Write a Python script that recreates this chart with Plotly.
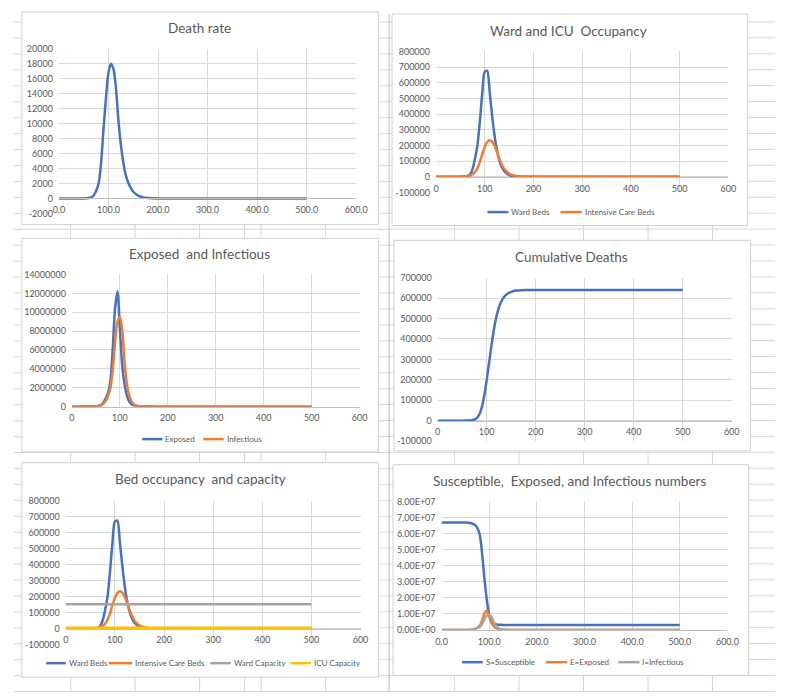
import plotly.graph_objects as go

W, H = 787, 697          # target window
OFF = 8                  # page body margin offset of the plot div
FW, FH = W - OFF, H - OFF
FONT = "Lato"
TXT = "#595959"
GRID = "#d9d9d9"
BLUE, ORANGE, GRAY, YELLOW = "#4472C4", "#ED7D31", "#A5A5A5", "#FFC000"

# ---------------- data ----------------
days = [0, 10, 20, 30, 40, 50, 55, 60, 65, 70, 75, 80, 85, 90, 95, 100, 105, 110,
        115, 120, 125, 130, 135, 140, 145, 150, 160, 170, 180, 200, 250, 300, 350,
        400, 450, 500]

death_rate = [0, 0, 0, 0, 2, 10, 25, 60, 150, 400, 1000, 2000, 4700, 9300, 13500,
              16800, 18000, 17300, 14800, 10500, 7200, 4800, 3100, 2100, 1400, 900,
              380, 150, 60, 10, 0, 0, 0, 0, 0, 0]

cumulative_deaths = [0, 0, 0, 0, 10, 60, 150, 350, 850, 2200, 5700, 13500, 30000,
                     65000, 122000, 198000, 285000, 372000, 450000, 511000, 555000,
                     585000, 604000, 617000, 625500, 631000, 637000, 639000, 639800,
                     640000, 640000, 640000, 640000, 640000, 640000, 640000]

ward_beds = [0, 0, 0, 0, 50, 300, 700, 1500, 5000, 15000, 50000, 115000, 200000,
             355000, 535000, 670000, 676000, 545000, 395000, 265000, 170000, 105000,
             62000, 36000, 20000, 11000, 3000, 800, 200, 0, 0, 0, 0, 0, 0, 0]

icu_beds = [0, 0, 0, 0, 100, 500, 1000, 2000, 4000, 8000, 16000, 30000, 55000, 95000,
            145000, 192000, 222000, 233000, 225000, 198000, 158000, 115000, 78000,
            50000, 32000, 20000, 7500, 2500, 800, 100, 0, 0, 0, 0, 0, 0]

ward_capacity = [152000] * len(days)
icu_capacity = [4100] * len(days)

exposed = [0, 50, 300, 1500, 7000, 30000, 70000, 160000, 380000, 820000, 1400000,
           2600000, 6000000, 10400000, 12200000, 8300000, 4300000, 2300000, 1100000,
           500000, 220000, 100000, 45000, 20000, 9000, 4000, 800, 150, 30, 0, 0, 0,
           0, 0, 0, 0]

infectious = [0, 30, 200, 1000, 5000, 20000, 50000, 120000, 280000, 580000, 1100000,
              1900000, 3800000, 6800000, 9000000, 9500000, 8100000, 4600000, 2300000,
              1100000, 500000, 230000, 100000, 45000, 20000, 9000, 1800, 350, 70, 0,
              0, 0, 0, 0, 0, 0]

susceptible = [66900000, 66899000, 66897000, 66890000, 66870000, 66800000, 66700000,
               66500000, 66100000, 65300000, 63600000, 59500000, 47500000, 32000000,
               18500000, 9500000, 5300000, 4000000, 3500000, 3300000, 3200000,
               3150000, 3120000, 3100000, 3090000, 3080000, 3070000, 3060000, 3060000,
               3050000, 3050000, 3050000, 3050000, 3050000, 3050000, 3050000]

x_ticks = [0, 100, 200, 300, 400, 500, 600]
y_ticks_death = list(range(-2000, 20001, 2000))
y_ticks_ward = list(range(-100000, 800001, 100000))
y_ticks_ei = list(range(0, 14000001, 2000000))
y_ticks_cum = list(range(-100000, 700001, 100000))
y_ticks_sei = [0, 1e7, 2e7, 3e7, 4e7, 5e7, 6e7, 7e7, 8e7]
y_labels_sei = ["0.00E+00", "1.00E+07", "2.00E+07", "3.00E+07", "4.00E+07",
                "5.00E+07", "6.00E+07", "7.00E+07", "8.00E+07"]

titles = ["Death rate", "Ward and ICU\u00a0 Occupancy", "Exposed\u00a0 and Infectious",
          "Cumulative Deaths", "Bed occupancy\u00a0 and capacity",
          "Susceptible,\u00a0 Exposed, and Infectious numbers"]

# ---------------- layout geometry (window pixels) ----------------
panels = [
    dict(box=(16, 6, 381, 222), plot=(54, 43.3, 358.3, 210.7), title=(198, 22.5),
         yt=y_ticks_death, yl=None, xfmt="{:.1f}", legend=None),
    dict(box=(395, 8, 759, 223), plot=(440, 46, 739.3, 189.3), title=(576, 25),
         yt=y_ticks_ward, yl=None, xfmt="{:d}",
         legend=(209.3, [(492.7, 514, 515), (567.3, 589.3, 590.3)])),
    dict(box=(16, 236, 381, 453), plot=(67.3, 272.7, 361.7, 407), title=(198, 251.5),
         yt=y_ticks_ei, yl=None, xfmt="{:d}",
         legend=(440, [(139.3, 160, 161), (201.7, 222.7, 223.7)])),
    dict(box=(397, 238, 762, 452), plot=(441.7, 276, 742.7, 442), title=(579, 255),
         yt=y_ticks_cum, yl=None, xfmt="{:d}", legend=None),
    dict(box=(16, 464, 381, 682), plot=(61, 502.7, 362.7, 648.7), title=(199, 480.5),
         yt=y_ticks_ward, yl=None, xfmt="{:d}",
         legend=(667.7, [(41, 61, 62.7), (105, 129, 130), (209, 230, 231),
                         (291, 312, 313)])),
    dict(box=(396, 466, 760, 680), plot=(445.7, 503.3, 738.3, 634), title=(577, 482.5),
         yt=y_ticks_sei, yl=y_labels_sei, xfmt="{:.1f}",
         legend=(666.7, [(466.7, 487.7, 488.7), (552.7, 574.3, 575.3),
                         (626.7, 648.3, 649)])),
]

series = [
    [("Death rate", death_rate, BLUE)],
    [("Ward Beds", ward_beds, BLUE), ("Intensive Care Beds", icu_beds, ORANGE)],
    [("Exposed", exposed, BLUE), ("Infectious", infectious, ORANGE)],
    [("Cumulative Deaths", cumulative_deaths, BLUE)],
    [("Ward Beds", ward_beds, BLUE), ("Intensive Care Beds", icu_beds, ORANGE),
     ("Ward Capacity", ward_capacity, GRAY), ("ICU Capacity", icu_capacity, YELLOW)],
    [("S=Susceptible", susceptible, BLUE), ("E=Exposed", exposed, ORANGE),
     ("I=Infectious", infectious, GRAY)],
]


def fx(px):
    return (px - OFF) / FW


def fy(py):
    return 1 - (py - OFF) / FH


fig = go.Figure()
shapes = []

# spreadsheet background grid
sheet = "#d6d6d6"
for x in [66, 132, 198, 244, 261, 327, 459, 525, 591, 657, 723]:
    shapes.append(dict(type="line", xref="paper", yref="paper", x0=fx(x), x1=fx(x),
                       y0=0, y1=1, line=dict(color=sheet, width=1), layer="below"))
k = 1
while 16.2 * k < H:
    y = 16.2 * k
    shapes.append(dict(type="line", xref="paper", yref="paper", x0=0, x1=fx(392),
                       y0=fy(y), y1=fy(y), line=dict(color=sheet, width=1), layer="below"))
    y2 = 16 + 16.2 * (k - 1)
    shapes.append(dict(type="line", xref="paper", yref="paper", x0=fx(392), x1=1,
                       y0=fy(y2), y1=fy(y2), line=dict(color=sheet, width=1), layer="below"))
    k += 1
shapes.append(dict(type="line", xref="paper", yref="paper", x0=fx(392), x1=fx(392),
                   y0=0, y1=1, line=dict(color="#c6c6c6", width=1.2), layer="below"))

annotations = []
layout_axes = {}

for i, (p, ser) in enumerate(zip(panels, series), start=1):
    bx0, by0, bx1, by1 = p["box"]
    shapes.append(dict(type="rect", xref="paper", yref="paper", x0=fx(bx0), x1=fx(bx1),
                       y0=fy(by1), y1=fy(by0), fillcolor="white",
                       line=dict(color="#d0d0d0", width=1), layer="below"))
    px0, py0, px1, py1 = p["plot"]
    yt = p["yt"]
    ymin, ymax = yt[0], yt[-1]
    ydom = [fy(py1), fy(py0)]
    xdom = [fx(px0), fx(px1)]
    suffix = "" if i == 1 else str(i)
    ylab = p["yl"] if p["yl"] else [str(v) for v in yt]
    if "d" in p["xfmt"]:
        xlab = [p["xfmt"].format(int(v)) for v in x_ticks]
    else:
        xlab = [p["xfmt"].format(v) for v in x_ticks]

    xa = dict(domain=xdom, range=[0, 600], tickmode="array", tickvals=x_ticks,
              ticktext=xlab, showgrid=True, gridcolor=GRID, gridwidth=1,
              showline=True, linecolor="#bfbfbf", linewidth=1, zeroline=False,
              ticks="", tickfont=dict(family=FONT, size=9, color=TXT),
              ticklabelstandoff=3, fixedrange=True)
    if ymin < 0:
        pos = ydom[0] + (0 - ymin) / (ymax - ymin) * (ydom[1] - ydom[0])
        xa.update(anchor="free", position=pos)
    else:
        xa.update(anchor="y" + suffix)
    ya = dict(domain=ydom, range=[ymin, ymax], tickmode="array", tickvals=yt,
              ticktext=ylab, showgrid=True, gridcolor=GRID, gridwidth=1,
              showline=False, zeroline=False, ticks="", anchor="x" + suffix,
              tickfont=dict(family=FONT, size=9, color=TXT), ticklabelstandoff=5,
              fixedrange=True)
    layout_axes["xaxis" + suffix] = xa
    layout_axes["yaxis" + suffix] = ya

    tx, ty = p["title"]
    annotations.append(dict(text=titles[i - 1], xref="paper", yref="paper",
                            x=fx(tx), y=fy(ty), xanchor="center", yanchor="middle",
                            showarrow=False,
                            font=dict(family=FONT, size=13.5, color=TXT)))

    for name, vals, col in ser:
        fig.add_trace(go.Scatter(
            x=days, y=vals, name=name, mode="lines",
            line=dict(color=col, width=2.5, shape="spline", smoothing=0.8),
            xaxis="x" + suffix, yaxis="y" + suffix,
            showlegend=False, hoverinfo="skip"))

    # Excel-style legend (key line + label) below the plot area
    if p["legend"]:
        ly, items = p["legend"]
        for (lx0, lx1, tx0), (name, vals, col) in zip(items, ser):
            shapes.append(dict(type="line", xref="paper", yref="paper",
                               x0=fx(lx0), x1=fx(lx1), y0=fy(ly), y1=fy(ly),
                               line=dict(color=col, width=2.5)))
            annotations.append(dict(text=name, xref="paper", yref="paper",
                                    x=fx(tx0), y=fy(ly), xanchor="left",
                                    yanchor="middle", showarrow=False,
                                    font=dict(family=FONT, size=8, color=TXT)))

fig.update_layout(
    width=FW, height=FH, margin=dict(l=0, r=0, t=0, b=0),
    paper_bgcolor="white", plot_bgcolor="rgba(0,0,0,0)",
    shapes=shapes, annotations=annotations, showlegend=False,
    font=dict(family=FONT, color=TXT),
    **layout_axes,
)

fig.write_html("out.html")
